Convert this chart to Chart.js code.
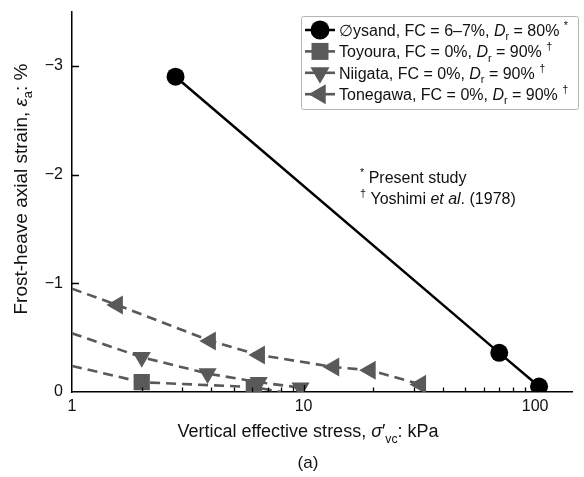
<!DOCTYPE html>
<html><head><meta charset="utf-8">
<script src="https://cdn.jsdelivr.net/npm/chart.js@4"></script>
<style>html,body{margin:0;padding:0;background:#fff}#wrap{width:584px;height:477px;position:relative}</style>
</head><body><div id="wrap"><canvas id="c" width="584" height="477"></canvas></div>
<script>
// ---- axis ticks ----
const stressTicks = [1, 10, 100];
const stressMinorTicks = [2, 3, 4, 5, 6, 7, 8, 9, 20, 30, 40, 50, 60, 70, 80, 90];
const strainTicks = [-3, -2, -1, 0];

// ---- series (vertical effective stress kPa, frost-heave axial strain %) ----
const oysandStress = [2.8, 70, 104];
const oysandStrain = [-2.9, -0.36, -0.05];
const toyouraStress = [2, 6.1];
const toyouraStrain = [-0.09, -0.045];
const niigataStress = [2, 3.85, 6.4, 9.7];
const niigataStrain = [-0.32, -0.17, -0.09, -0.04];
const tonegawaStress = [1.57, 3.96, 6.45, 13.5, 19.4, 32];
const tonegawaStrain = [-0.8, -0.47, -0.34, -0.23, -0.2, -0.07];
// dashed trend lines start at 1 kPa (Toyoura, Niigata, Tonegawa)
const trendStartStress = 1;
const trendStartStrain = [-0.24, -0.54, -0.95];
const toyouraTrendEnd = [8, 0];

const FONT = "'Liberation Sans', Arial, sans-serif";
const GRAY = '#595959';

function pts(xs, ys) { return xs.map((x, i) => ({ x: x, y: ys[i] })); }
function trend(startY, xs, ys, end) {
  const a = [{ x: trendStartStress, y: startY }].concat(pts(xs, ys));
  if (end) a.push({ x: end[0], y: end[1] });
  return a;
}

const datasets = [
  { label: 'Øysand', data: pts(oysandStress, oysandStrain), showLine: true,
    borderColor: '#000', borderWidth: 2.5, pointStyle: 'circle', pointRadius: 9,
    pointBackgroundColor: '#000', pointBorderWidth: 0, order: 0 },
  { label: 'Toyoura line', data: trend(trendStartStrain[0], toyouraStress, toyouraStrain, toyouraTrendEnd),
    showLine: true, borderColor: GRAY, borderWidth: 2.6, borderDash: [10, 6], pointRadius: 0, order: 5 },
  { label: 'Niigata line', data: trend(trendStartStrain[1], niigataStress, niigataStrain),
    showLine: true, borderColor: GRAY, borderWidth: 2.6, borderDash: [10, 6], pointRadius: 0, order: 5 },
  { label: 'Tonegawa line', data: trend(trendStartStrain[2], tonegawaStress, tonegawaStrain),
    showLine: true, borderColor: GRAY, borderWidth: 2.6, borderDash: [10, 6], pointRadius: 0, order: 5 },
  { label: 'Toyoura', data: pts(toyouraStress, toyouraStrain), showLine: false,
    pointStyle: 'rect', pointRadius: 11.5, pointBackgroundColor: GRAY, pointBorderWidth: 0, order: 3 },
  { label: 'Niigata', data: pts(niigataStress, niigataStrain), showLine: false,
    pointStyle: 'triangle', pointRotation: 180, pointRadius: 10.5, pointBackgroundColor: GRAY, pointBorderWidth: 0, order: 2 },
  { label: 'Tonegawa', data: pts(tonegawaStress, tonegawaStrain), showLine: false,
    pointStyle: 'triangle', pointRotation: -90, pointRadius: 11, pointBackgroundColor: GRAY, pointBorderWidth: 0, order: 1 }
];

// rich text helper
function runFont(r, size) {
  const s = (r.sub || r.sup) ? size * 0.68 : size;
  return (r.it ? 'italic ' : '') + s + 'px ' + FONT;
}
function richWidth(ctx, runs, size) {
  let w = 0;
  runs.forEach(r => { ctx.font = runFont(r, size); w += ctx.measureText(r.t).width; });
  return w;
}
function drawRich(ctx, runs, x, cy, size, align) {
  const w = richWidth(ctx, runs, size);
  let cx = align === 'center' ? x - w / 2 : x;
  const base = cy + size * 0.36;
  ctx.textBaseline = 'alphabetic';
  ctx.textAlign = 'left';
  runs.forEach(r => {
    ctx.font = runFont(r, size);
    let dy = 0;
    if (r.sub) dy = size * 0.28;
    if (r.sup) dy = -size * 0.42;
    ctx.fillText(r.t, cx, base + dy);
    cx += ctx.measureText(r.t).width;
  });
}

const legendItems = [
  { line: 'solid', color: '#000', style: 'circle', rot: 0, r: 9.5,
    runs: [{ t: '∅ysand, FC = 6–7%, ' }, { t: 'D', it: true }, { t: 'r', sub: true }, { t: ' = 80% ' }, { t: '*', sup: true }] },
  { line: 'dash', color: GRAY, style: 'rect', rot: 0, r: 12,
    runs: [{ t: 'Toyoura, FC = 0%, ' }, { t: 'D', it: true }, { t: 'r', sub: true }, { t: ' = 90% ' }, { t: '†', sup: true }] },
  { line: 'dash', color: GRAY, style: 'triangle', rot: 180, r: 11,
    runs: [{ t: 'Niigata, FC = 0%, ' }, { t: 'D', it: true }, { t: 'r', sub: true }, { t: ' = 90% ' }, { t: '†', sup: true }] },
  { line: 'dash', color: GRAY, style: 'triangle', rot: -90, r: 11.5,
    runs: [{ t: 'Tonegawa, FC = 0%, ' }, { t: 'D', it: true }, { t: 'r', sub: true }, { t: ' = 90% ' }, { t: '†', sup: true }] }
];

const decor = {
  id: 'decor',
  afterDatasetsDraw(chart) {
    const ctx = chart.ctx, xs = chart.scales.x, ys = chart.scales.y, ca = chart.chartArea;
    ctx.save();
    ctx.strokeStyle = '#000';
    ctx.lineWidth = 1.3;
    ctx.beginPath();
    strainTicks.forEach(v => { const y = Math.round(ys.getPixelForValue(v)) + 0.5; if (v !== 0) { ctx.moveTo(ca.left, y); ctx.lineTo(ca.left + 7, y); } });
    stressTicks.forEach(v => { const x = Math.round(xs.getPixelForValue(v)) + 0.5; if (v !== 1) { ctx.moveTo(x, ca.bottom); ctx.lineTo(x, ca.bottom - 7); } });
    stressMinorTicks.forEach(v => { const x = Math.round(xs.getPixelForValue(v)) + 0.5; ctx.moveTo(x, ca.bottom); ctx.lineTo(x, ca.bottom - 4.5); });
    ctx.stroke();
    ctx.restore();
  },
  afterDraw(chart) {
    const ctx = chart.ctx;
    ctx.save();
    // legend box
    ctx.fillStyle = '#fff';
    ctx.strokeStyle = '#b5b5b5';
    ctx.lineWidth = 1;
    ctx.beginPath();
    ctx.roundRect(301.5, 16.5, 277, 93, 2);
    ctx.fill(); ctx.stroke();
    legendItems.forEach((it, i) => {
      const y = 30 + i * 21.4;
      ctx.save();
      ctx.strokeStyle = it.color;
      ctx.lineWidth = it.line === 'solid' ? 2.5 : 2.6;
      ctx.beginPath(); ctx.moveTo(305, y); ctx.lineTo(335, y); ctx.stroke();
      ctx.fillStyle = it.color;
      Chart.helpers.drawPoint(ctx, { pointStyle: it.style, radius: it.r, rotation: it.rot, borderWidth: 0 }, 320, y);
      ctx.restore();
      ctx.fillStyle = '#111';
      drawRich(ctx, it.runs, 339, y, 16, 'left');
    });
    // notes
    ctx.fillStyle = '#111';
    drawRich(ctx, [{ t: '*', sup: true }, { t: ' Present study' }], 360, 177, 16, 'left');
    drawRich(ctx, [{ t: '†', sup: true }, { t: ' Yoshimi ' }, { t: 'et al', it: true }, { t: '. (1978)' }], 360, 198, 16, 'left');
    // axis titles
    drawRich(ctx, [{ t: 'Vertical effective stress, ' }, { t: 'σ', it: true }, { t: '′' }, { t: 'vc', sub: true }, { t: ': kPa' }], 308, 431, 18, 'center');
    drawRich(ctx, [{ t: '(a)' }], 308, 462, 17, 'center');
    ctx.translate(20, 189);
    ctx.rotate(-Math.PI / 2);
    drawRich(ctx, [{ t: 'Frost-heave axial strain, ' }, { t: 'ε', it: true }, { t: 'a', sub: true }, { t: ': %' }], 0, 0, 19, 'center');
    ctx.restore();
  }
};

new Chart(document.getElementById('c'), {
  type: 'scatter',
  data: { datasets: datasets },
  options: {
    responsive: false,
    animation: false,
    layout: { padding: { top: 10, right: 2, left: 0, bottom: 0 } },
    plugins: { legend: { display: false }, tooltip: { enabled: false } },
    scales: {
      x: {
        type: 'logarithmic', min: 1, max: 145,
        afterFit: s => { s.height = 85; s.paddingLeft = 0; s.paddingRight = 0; },
        afterBuildTicks: s => { s.ticks = stressTicks.map(v => ({ value: v, major: true })); },
        grid: { display: false, drawTicks: false },
        border: { display: true, color: '#000', width: 1.5 },
        ticks: { autoSkip: false, maxRotation: 0, padding: 5, color: '#111',
          font: { family: FONT, size: 16 }, callback: v => String(v) }
      },
      y: {
        type: 'linear', min: -3.5, max: 0, reverse: true,
        afterFit: s => { s.width = 72; s.paddingTop = 0; s.paddingBottom = 0; },
        afterBuildTicks: s => { s.ticks = strainTicks.map(v => ({ value: v })); },
        grid: { display: false, drawTicks: false },
        border: { display: true, color: '#000', width: 1.5 },
        ticks: { padding: 9, color: '#111', font: { family: FONT, size: 16 },
          callback: v => (v < 0 ? '\u2212' + Math.abs(v) : String(v)) }
      }
    }
  },
  plugins: [decor]
});
</script>
</body></html>
